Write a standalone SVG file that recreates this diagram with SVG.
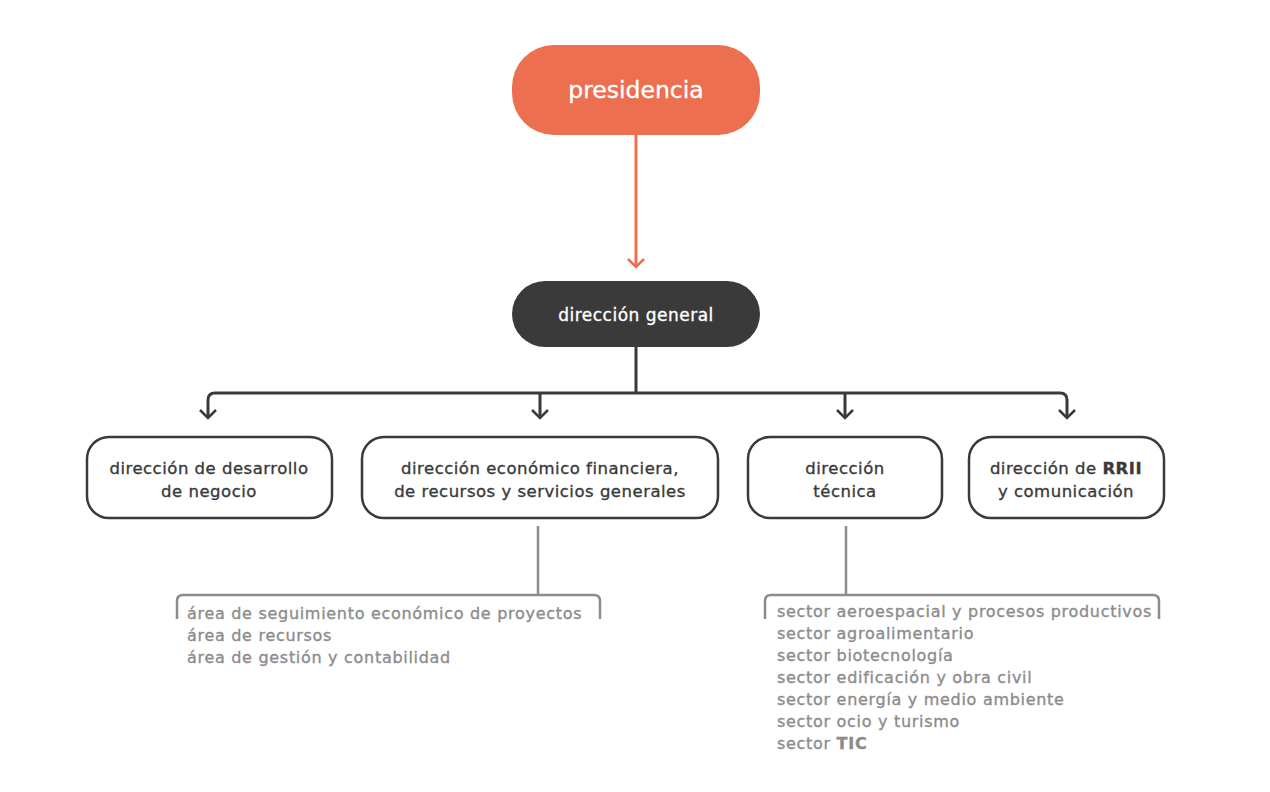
<svg xmlns="http://www.w3.org/2000/svg" width="1270" height="792" viewBox="0 0 1270 792">
<defs>
<style>
.t{font-family:"DejaVu Sans","Liberation Sans",sans-serif;stroke-width:0.35px}
.box{fill:#fff;stroke:#3a3a3a;stroke-width:2.5}
.bt{font-size:16.5px;fill:#3a3a3a;stroke:#3a3a3a;text-anchor:middle;letter-spacing:0.5px}
.dk{stroke:#3a3a3a;stroke-width:3;fill:none}
.ah{stroke:#3a3a3a;stroke-width:2.5;fill:none}
.gr{stroke:#8c8c8c;stroke-width:2.5;fill:none}
.lt{font-size:16px;fill:#8c8c8c;stroke:#8c8c8c;letter-spacing:0.7px}
.wt{fill:#fff;stroke:#fff}
</style>
</defs>
<rect width="1270" height="792" fill="#fff"/>
<g id="connectors">
<line x1="636" y1="135" x2="636" y2="267" stroke="#ec7050" stroke-width="3"/>
<path d="M628,259 L636,267 L644,259" fill="none" stroke="#ec7050" stroke-width="2.5"/>
<line class="dk" x1="636" y1="347" x2="636" y2="393"/>
<path class="dk" d="M208,418 V400 Q208,393 215,393 H1060 Q1067,393 1067,400 V418"/>
<path class="ah" d="M200,410 L208,418 L216,410"/>
<path class="ah" d="M1059,410 L1067,418 L1075,410"/>
<line class="dk" x1="540" y1="393" x2="540" y2="418"/>
<path class="ah" d="M532,410 L540,418 L548,410"/>
<line class="dk" x1="845" y1="393" x2="845" y2="418"/>
<path class="ah" d="M837,410 L845,418 L853,410"/>
<line class="gr" x1="538" y1="526" x2="538" y2="595"/>
<path class="gr" d="M177,619 V601 Q177,595 183,595 H594 Q600,595 600,601 V619"/>
<line class="gr" x1="846" y1="526" x2="846" y2="595"/>
<path class="gr" d="M765,619 V601 Q765,595 771,595 H1153 Q1159,595 1159,601 V619"/>
</g>
<g id="presidencia">
<rect x="512" y="45" width="248" height="90" rx="42" fill="#ec7050"/>
<text class="t wt" x="636" y="98" font-size="23.5" stroke-width="0.6" text-anchor="middle">presidencia</text>
</g>
<g id="direccion-general">
<rect x="512" y="281" width="248" height="66" rx="33" fill="#3a3a3a"/>
<text class="t wt" x="636" y="321" font-size="17" letter-spacing="0.5" text-anchor="middle">dirección general</text>
</g>
<g id="desarrollo">
<rect class="box" x="87" y="437" width="245" height="81" rx="22"/>
<text class="t bt" x="209" y="474">dirección de desarrollo</text>
<text class="t bt" x="209" y="497">de negocio</text>
</g>
<g id="economico">
<rect class="box" x="362" y="437" width="356" height="81" rx="22"/>
<text class="t bt" x="540" y="474">dirección económico financiera,</text>
<text class="t bt" x="540" y="497">de recursos y servicios generales</text>
</g>
<g id="tecnica">
<rect class="box" x="748" y="437" width="194" height="81" rx="22"/>
<text class="t bt" x="845" y="474">dirección</text>
<text class="t bt" x="845" y="497">técnica</text>
</g>
<g id="rrii">
<rect class="box" x="969" y="437" width="195" height="81" rx="22"/>
<text class="t bt" x="1066" y="474">dirección de <tspan font-weight="bold">RRII</tspan></text>
<text class="t bt" x="1066" y="497">y comunicación</text>
</g>
<g id="areas">
<text class="t lt" x="187" y="619">área de seguimiento económico de proyectos</text>
<text class="t lt" x="187" y="641">área de recursos</text>
<text class="t lt" x="187" y="663">área de gestión y contabilidad</text>
</g>
<g id="sectores">
<text class="t lt" x="777" y="617">sector aeroespacial y procesos productivos</text>
<text class="t lt" x="777" y="639">sector agroalimentario</text>
<text class="t lt" x="777" y="661">sector biotecnología</text>
<text class="t lt" x="777" y="683">sector edificación y obra civil</text>
<text class="t lt" x="777" y="705">sector energía y medio ambiente</text>
<text class="t lt" x="777" y="727">sector ocio y turismo</text>
<text class="t lt" x="777" y="749">sector <tspan font-weight="bold">TIC</tspan></text>
</g>
</svg>
